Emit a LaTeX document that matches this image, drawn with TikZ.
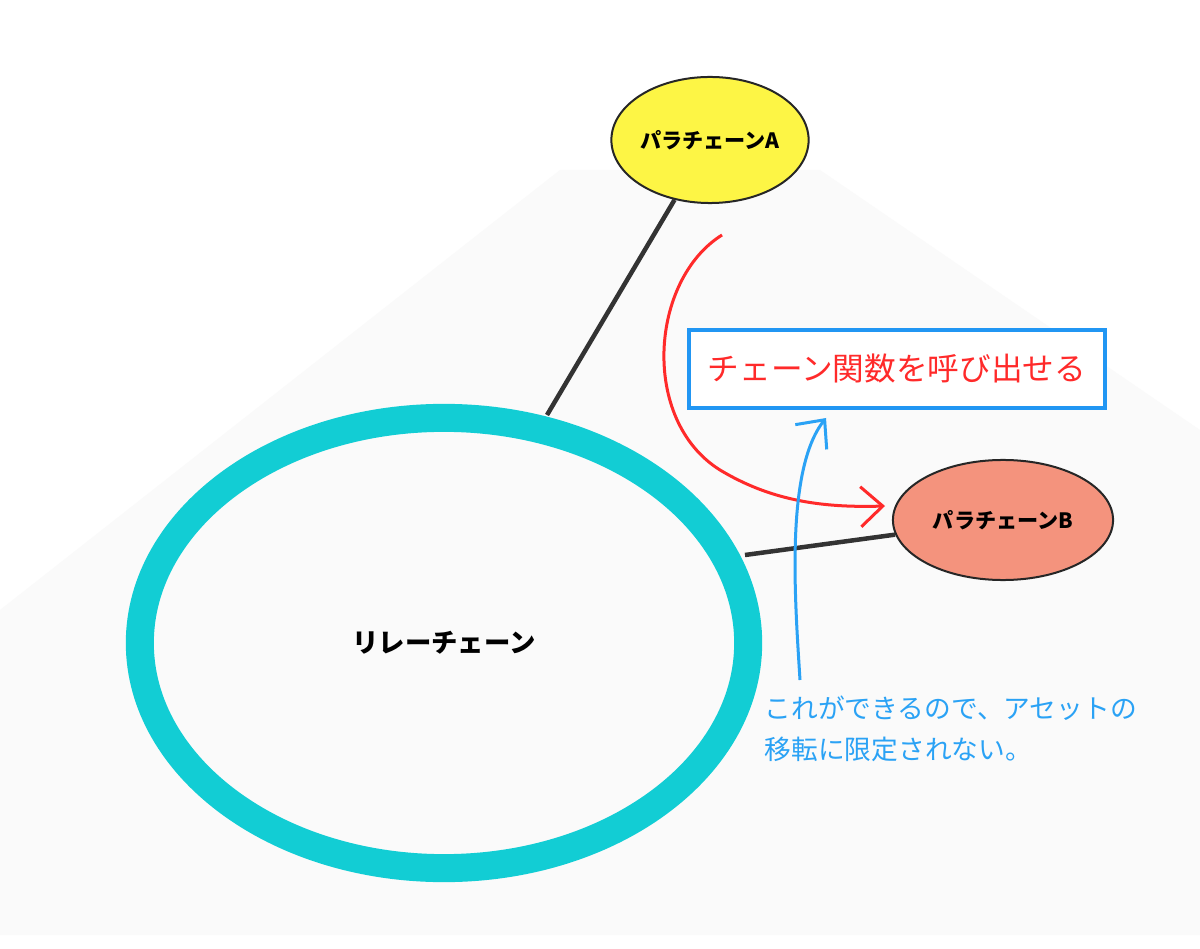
\documentclass[tikz,border=0pt]{standalone}
\usepackage{fontspec}
\setmainfont{Noto Sans CJK JP}
\usetikzlibrary{arrows.meta, shapes.geometric}

\definecolor{relaycyan}{HTML}{12CDD4}
\definecolor{parayellow}{HTML}{FDF545}
\definecolor{parasalmon}{HTML}{F4937D}
\definecolor{boxblue}{HTML}{2196F3}
\definecolor{notered}{HTML}{FF2A2A}
\definecolor{noteblue}{HTML}{2AA2F5}

\begin{document}
\begin{tikzpicture}[
            x = 0.01cm, y = -0.01cm, % pixel units, y down
            > = {Straight Barb[length=2.2mm, width=4mm]}, % arrow head style
            semithick % line style
        ]

        \tikzstyle{para}=[
            ellipse,
            draw = black!85,
            line width = 0.2mm,
            font = \fontsize{6}{7}\selectfont\bfseries,
            inner sep = 0pt
        ]
        \tikzstyle{link}=[
            draw = black!80,
            line width = 0.45mm
        ]

        % background
        \fill[white] (0,0) rectangle (1200,949);
        \fill[black!2] (0,610) -- (560,170) -- (820,170) -- (1200,430)
            -- (1200,935) -- (0,935) -- cycle;

        % relay chain
        \node[ellipse, draw = relaycyan, line width = 2.8mm, fill = white!98!black,
              minimum width = 6.08cm, minimum height = 4.5cm,
              font = \fontsize{7.5}{8}\selectfont\bfseries] (relay) at (444,643) {リレーチェーン};

        % parachains
        \node[para, fill = parayellow, minimum width = 1.94cm, minimum height = 1.26cm]
            (paraA) at (710,140) {パラチェーンA};
        \node[para, fill = parasalmon, minimum width = 2.2cm, minimum height = 1.2cm]
            (paraB) at (1003,520) {パラチェーンB};

        \coordinate (relayA) at (547,415);
        \coordinate (relayB) at (745,555);
        \draw[link] (relayA) -- (paraA);
        \draw[link] (relayB) -- (paraB);

        % note box
        \node[draw = boxblue, line width = 0.45mm, fill = white,
              minimum width = 4.16cm, minimum height = 0.78cm,
              text = notered, font = \fontsize{9}{10}\selectfont] (call) at (897,369) {チェーン関数を呼び出せる};

        % arrows
        \coordinate (redstart) at (722,235);
        \coordinate (redend) at (885,506);
        \draw[->, notered, line width = 0.3mm]
            (redstart) .. controls (650,280) and (640,420) .. (720,470)
            .. controls (770,500) and (820,508) .. (redend);

        \coordinate (bluestart) at (800,680);
        \coordinate (blueend) at (826,418);
        \draw[->, noteblue, line width = 0.3mm]
            (bluestart) .. controls (795,600) and (785,470) .. (blueend);

        \node[anchor = north west, align = left, text = noteblue,
              font = \fontsize{7.6}{11.8}\selectfont] (note) at (752,683)
            {これができるので、アセットの\\移転に限定されない。};

  \end{tikzpicture}
\end{document}
